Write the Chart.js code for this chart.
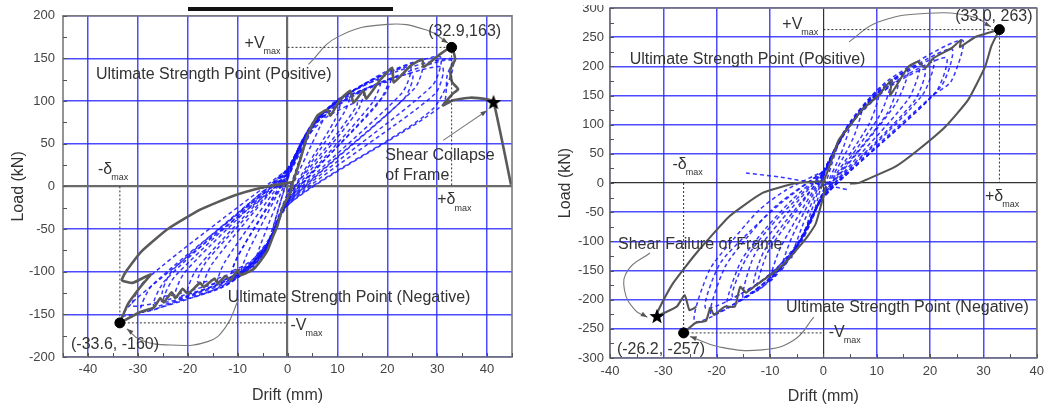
<!DOCTYPE html>
<html>
<head>
<meta charset="utf-8">
<script src="https://cdn.jsdelivr.net/npm/chart.js@4.4.0/dist/chart.umd.min.js"></script>
<style>
  body { margin: 0; background: #fff; width: 1050px; height: 408px; overflow: hidden; position: relative; }
  #left { position: absolute; left: 0; top: 0; }
  #right { position: absolute; left: 530px; top: -6px; }
  .bar { position: absolute; left: 188px; top: 7px; width: 205px; height: 4px; background: #111; }
  .cut { position: absolute; left: 560px; top: 0; width: 60px; height: 5px; background: #fff; }
</style>
</head>
<body>
<canvas id="left" width="530" height="408"></canvas>
<canvas id="right" width="520" height="414"></canvas>
<div class="bar"></div>
<div class="cut"></div>
<script>
// ---- axes ----
const leftXTicks = [-40, -30, -20, -10, 0, 10, 20, 30, 40];
const leftYTicks = [-200, -150, -100, -50, 0, 50, 100, 150, 200];
const leftXMinor = [-45, -35, -25, -15, -5, 5, 15, 25, 35, 45];
const leftYMinor = [-175, -125, -75, -25, 25, 75, 125, 175];
const rightXTicks = [-40, -30, -20, -10, 0, 10, 20, 30, 40];
const rightYTicks = [-300, -250, -200, -150, -100, -50, 0, 50, 100, 150, 200, 250, 300];
const rightXMinor = [-35, -25, -15, -5, 5, 15, 25, 35];
const rightYMinor = [-275, -225, -175, -125, -75, -25, 25, 75, 125, 175, 225, 275];

// ---- left specimen (drift mm, load kN) ----
const leftEnvelopePos = [[0.6, -3], [1.5, 12], [2.6, 32], [4, 60], [6, 83], [8, 90], [8.6, 83], [10.6, 102],
  [12.6, 112], [13.2, 98], [15.2, 112], [15.8, 103], [18.6, 125], [21, 139], [21.3, 122], [24.6, 141],
  [27, 149], [27.3, 140], [30.6, 155], [32.9, 163], [33.6, 149], [32.6, 137], [33, 122], [34.2, 114],
  [33, 108], [31.2, 95], [33.2, 101], [36.6, 104], [40, 102], [41.3, 99], [44.8, 2]];
const leftEnvelopeNeg = [[1, 2], [0.6, -7], [-1, -25], [-2, -46], [-3, -60], [-4, -75], [-5.5, -88], [-6.8, -97],
  [-9.4, -104], [-10, -98], [-11.4, -110], [-12.4, -105], [-14, -114], [-14.6, -108], [-16.8, -118],
  [-17.5, -113], [-20, -126], [-21, -120], [-22.5, -131], [-23.2, -124], [-24.8, -136], [-25.5, -131],
  [-26.8, -142], [-29.4, -147], [-33.6, -160]];
const leftOuterNeg = [[1, 5], [-4.8, -1], [-10.8, -11], [-17.4, -27], [-24, -50], [-29.4, -77], [-32.4, -100],
  [-33.2, -110], [-31, -113], [-27.4, -103], [-29.5, -118], [-32, -138], [-33.6, -160]];
const leftCycles = [
  [[0, 8], [1.5, 30], [3, 45], [1.5, 15], [0, -8], [-1.5, -30], [-3, -52], [-1.5, -20], [0, 8]],
  [[0, 10], [2, 38], [3.5, 58], [5, 72], [3, 40], [0, -10], [-2, -40], [-3.5, -65], [-4.5, -78], [-2.5, -40], [0, 10]],
  [[0, 12], [2, 40], [4, 65], [6, 82], [8, 90], [6.5, 70], [0, -12], [-2, -45], [-4, -72], [-5.5, -88], [-6.8, -95], [-5.5, -70], [0, 12]],
  [[0, 12], [2.5, 45], [5, 72], [8, 90], [10.6, 100], [9.5, 78], [0, -14], [-2.5, -50], [-5, -80], [-7.5, -95], [-9.4, -103], [-8, -78], [0, 14]],
  [[0, 14], [3, 50], [6, 78], [9, 97], [12.6, 110], [11.5, 88], [0, -15], [-3, -55], [-6, -85], [-9, -100], [-11.4, -108], [-10, -82], [0, 15]],
  [[0, 12], [4, 58], [8, 82], [14, 98], [11, 70], [0, -13], [-3, -58], [-7, -86], [-11, -98], [-9, -72], [0, 12]],
  [[0, 15], [3, 52], [6, 80], [10, 100], [15.2, 112], [14, 88], [0, -16], [-3, -57], [-7, -90], [-11, -105], [-14, -112], [-12.5, -88], [0, 16]],
  [[0, 16], [3.5, 58], [7, 85], [12, 108], [18.6, 125], [17, 98], [0, -17], [-3.5, -62], [-8, -95], [-12, -108], [-16.8, -117], [-15, -90], [0, 17]],
  [[0, 14], [3, 55], [7, 85], [13, 108], [20, 122], [18, 96], [0, -16], [-3.5, -60], [-8, -92], [-13, -106], [-18, -112], [-16, -86], [0, 15]],
  [[0, 17], [4, 62], [8, 90], [14, 115], [21, 137], [19.5, 108], [0, -18], [-4, -68], [-9, -100], [-14, -115], [-20, -125], [-18, -95], [0, 18]],
  [[0, 18], [4, 64], [9, 95], [16, 122], [24.6, 140], [23, 110], [0, -18], [-4, -70], [-10, -105], [-16, -120], [-22.5, -130], [-20.5, -100], [0, 18]],
  [[0, 18], [4, 62], [9, 92], [17, 118], [25, 132], [23.5, 104], [0, -20], [-4, -70], [-10, -102], [-17, -118], [-25, -128], [-23, -98], [0, 18]],
  [[0, 19], [4.5, 68], [10, 100], [18, 128], [27, 147], [25.5, 115], [0, -19], [-4.5, -75], [-11, -110], [-18, -125], [-24.8, -135], [-22.5, -105], [0, 19]],
  [[0, 20], [5, 72], [11, 105], [20, 133], [30.6, 152], [29, 118], [0, -20], [-5, -80], [-12, -115], [-20, -130], [-26.8, -140], [-24.5, -110], [0, 20]],
  [[0, 20], [5, 70], [12, 102], [21, 126], [31, 140], [29.5, 108], [0, -21], [-5, -78], [-12, -110], [-21, -128], [-31, -140], [-28.5, -110], [0, 20]],
  [[0, 15], [5, 74], [12, 108], [22, 135], [33, 150], [32, 130], [31, 95], [0, -22], [-5, -82], [-13, -118], [-22, -135], [-29.4, -147], [-27, -115], [0, 14]],
  [[0, 10], [6, 75], [14, 110], [33, 148], [29, 90], [0.6, -19], [-6, -88], [-15, -122], [-33, -152], [-30, -130], [0, 10]]
];
const leftPeaks = [[32.9, 163], [-33.6, -160]];
const leftCollapse = [[41.3, 99]];
const leftGuides = [
  [[0, 163], [32.9, 163]], [[32.9, 163], [32.9, 0]],
  [[-33.6, 0], [-33.6, -160]], [[-33.6, -160], [0, -160]]
];
const leftCallouts = [
  [[4.2, 143], [10, 175], [20, 190], [28, 183], [32.2, 168]],
  [[-9.8, -132], [-12.4, -165], [-16, -182], [-23.4, -186], [-29.4, -180], [-32.2, -167]],
  [[31.2, 54], [40, 89]]
];

// ---- right specimen ----
const rightEnvelopePos = [[-0.5, -10], [1, 25], [2.9, 74], [4.8, 96], [7.2, 125], [10.3, 150], [12.8, 177],
  [12.5, 150], [15.9, 199], [17.8, 208], [19.1, 197], [20.6, 214], [24, 231], [25.8, 245], [25.6, 233],
  [28.4, 250], [33, 263]];
const rightUnloadPos = [[33, 263], [31.5, 235], [30.3, 199], [27.1, 142], [22.8, 96], [17.8, 57], [13.5, 28],
  [7.9, 5], [6.6, 0], [5, -1]];
const rightEnvelopeNeg = [[0.5, -5], [-1.4, -69], [-3, -92], [-4.6, -110], [-7, -135], [-9.5, -155],
  [-12.6, -175], [-14.5, -188], [-15.6, -178], [-16.6, -212], [-18.5, -212], [-20.5, -226], [-21.2, -214],
  [-22, -236], [-24, -240], [-26.2, -257]];
const rightOuterNeg = [[0.5, 3], [-5, 0], [-11.4, -17], [-17.6, -57], [-23.8, -120], [-28.2, -172],
  [-31.1, -221], [-31.2, -228], [-27.5, -212], [-26, -192], [-25.1, -218], [-23.8, -212]];
const rightCycles = [
  [[0, 10], [1.5, 45], [2.9, 74], [1.5, 30], [0, -12], [-1, -35], [-2, -60], [-1, -25], [0, 10]],
  [[0, 12], [2, 50], [3.5, 80], [5, 100], [3.5, 55], [0, -15], [-1.5, -45], [-3, -80], [-4, -100], [-2.5, -55], [0, 12]],
  [[0, 14], [2.5, 60], [5, 100], [7.2, 125], [5.5, 75], [0, -17], [-2, -55], [-4, -95], [-6, -128], [-4, -75], [0, 14]],
  [[0, 15], [3, 70], [6, 112], [10.3, 150], [8.5, 100], [0, -18], [-2.5, -65], [-5, -110], [-8, -150], [-6, -95], [0, 15]],
  [[0, 16], [3, 72], [7, 125], [12.5, 170], [10.5, 115], [0, -20], [-3, -75], [-6, -125], [-10, -168], [-8, -110], [0, 16]],
  [[0, 15], [3, 72], [7, 120], [14, 175], [12, 120], [0, -20], [-3, -80], [-7, -130], [-13, -175], [-11, -115], [0, 15]],
  [[0, 17], [3.5, 80], [8, 135], [15.9, 195], [13.5, 135], [0, -22], [-3.5, -85], [-7, -135], [-12.5, -185], [-10.5, -120], [-6, -60], [0, 17]],
  [[0, 18], [4, 88], [9, 145], [18, 205], [16, 145], [0, -23], [-4, -95], [-8, -145], [-15, -197], [-13, -125], [-8, -65], [0, 18]],
  [[0, 18], [4, 90], [10, 150], [19, 195], [17, 140], [0, -23], [-4, -95], [-9, -150], [-17, -195], [-14.5, -130], [-9, -65], [0, 18]],
  [[0, 19], [4.5, 95], [10, 155], [20.6, 212], [18.5, 150], [0, -24], [-4.5, -100], [-9, -155], [-18, -212], [-15.5, -135], [-11, -80], [-6, -30], [0, 19]],
  [[0, 20], [5, 100], [12, 165], [23, 215], [21, 155], [0, -24], [-5, -105], [-11, -165], [-22, -215], [-19.5, -140], [-14, -85], [-8, -35], [0, 20]],
  [[0, 20], [5, 102], [11, 165], [24, 230], [22, 165], [0, -25], [-5, -108], [-10, -165], [-21, -225], [-18.5, -145], [-14, -90], [-9, -40], [0, 20]],
  [[0, 20], [5, 105], [12, 175], [26, 245], [24, 175], [20.2, 148], [0, -25], [-5, -110], [-11, -175], [-24, -238], [-21.4, -150], [-17, -98], [-12, -46], [-7, -12], [0, 20]],
  [[-14.5, 17], [-8, 10], [0, -3], [4.8, -12]]
];
const rightPeaks = [[33, 263], [-26.2, -257]];
const rightFailure = [[-31.2, -228]];
const rightGuides = [
  [[0, 263], [33, 263]], [[33, 263], [33, 0]],
  [[-26.2, 0], [-26.2, -257]], [[-26.2, -257], [0, -257]]
];
const rightCallouts = [
  [[4.8, 242], [10.3, 276], [19.7, 291], [28, 285], [31.4, 268]],
  [[-32.5, -120], [-36.6, -149], [-37.3, -183], [-35.3, -218], [-33, -230]],
  [[-1.8, -230], [-5.5, -269], [-11.5, -286], [-19.5, -281], [-25, -263]]
];

const leftNotes = [
  { text: '(32.9,163)', x: 28.2, y: 182 },
  { text: '+V', sub: 'max', x: -8.6, y: 168 },
  { text: 'Ultimate Strength Point (Positive)', x: -38.4, y: 131 },
  { text: 'Shear Collapse', x: 19.6, y: 36 },
  { text: 'of Frame', x: 19.6, y: 13 },
  { text: '-\u03b4', sub: 'max', x: -38, y: 20 },
  { text: '+\u03b4', sub: 'max', x: 30, y: -16 },
  { text: 'Ultimate Strength Point (Negative)', x: -12, y: -130 },
  { text: '(-33.6, -160)', x: -43.4, y: -185 },
  { text: '-V', sub: 'max', x: 0.6, y: -163 }
];
const rightNotes = [
  { text: '(33.0, 263)', x: 24.7, y: 285 },
  { text: '+V', sub: 'max', x: -7.7, y: 271 },
  { text: 'Ultimate Strength Point (Positive)', x: -36.3, y: 211 },
  { text: '-\u03b4', sub: 'max', x: -28.3, y: 31 },
  { text: '+\u03b4', sub: 'max', x: 30.3, y: -24 },
  { text: 'Shear Failure of Frame', x: -38.5, y: -106 },
  { text: 'Ultimate Strength Point (Negative)', x: -7, y: -213 },
  { text: '(-26.2, -257)', x: -38.7, y: -286 },
  { text: '-V', sub: 'max', x: 1, y: -257 }
];

const FONT = '"Liberation Sans", Arial, sans-serif';
const toXY = (arr) => arr.map(([x, y]) => ({ x, y }));

function starImage(size) {
  const c = document.createElement('canvas');
  c.width = c.height = size;
  const g = c.getContext('2d');
  g.fillStyle = '#000';
  g.beginPath();
  for (let i = 0; i < 10; i++) {
    const r = i % 2 ? size * 0.21 : size * 0.5;
    const a = -Math.PI / 2 + i * Math.PI / 5;
    g.lineTo(size / 2 + r * Math.cos(a), size / 2 + r * Math.sin(a) + size * 0.05);
  }
  g.closePath();
  g.fill();
  return c;
}

function line(data, color, width, dash, order, tension, extra) {
  return Object.assign({
    data: toXY(data), showLine: true, borderColor: color, borderWidth: width,
    borderDash: dash, pointRadius: 0, tension: tension, order: order, fill: false
  }, extra || {});
}

function decor(conf) {
  return {
    id: 'decor',
    afterDatasetsDraw(chart) {
      const { ctx, chartArea: a, scales: { x, y } } = chart;
      ctx.save();
      ctx.strokeStyle = conf.frame;
      ctx.lineWidth = 1.6;
      ctx.strokeRect(a.left, a.top, a.right - a.left, a.bottom - a.top);
      ctx.strokeStyle = '#555';
      ctx.lineWidth = 1;
      conf.xMarks.forEach((v) => {
        const px = Math.round(x.getPixelForValue(v)) + 0.5;
        ctx.beginPath(); ctx.moveTo(px, a.bottom); ctx.lineTo(px, a.bottom - 4); ctx.stroke();
      });
      conf.yMarks.forEach((v) => {
        const py = Math.round(y.getPixelForValue(v)) + 0.5;
        ctx.beginPath(); ctx.moveTo(a.left, py); ctx.lineTo(a.left + 4, py); ctx.stroke();
      });
      // arrow heads on callouts
      ctx.fillStyle = '#555';
      chart.data.datasets.forEach((ds, i) => {
        if (!ds.arrow) return;
        const pts = chart.getDatasetMeta(i).data;
        const p = pts[pts.length - 1], q = pts[pts.length - 2];
        const ang = Math.atan2(p.y - q.y, p.x - q.x);
        ctx.beginPath();
        ctx.moveTo(p.x, p.y);
        ctx.lineTo(p.x - 7 * Math.cos(ang - 0.35), p.y - 7 * Math.sin(ang - 0.35));
        ctx.lineTo(p.x - 7 * Math.cos(ang + 0.35), p.y - 7 * Math.sin(ang + 0.35));
        ctx.closePath();
        ctx.fill();
      });
      ctx.fillStyle = '#333';
      ctx.textBaseline = 'middle';
      ctx.textAlign = 'left';
      conf.notes.forEach((n) => {
        const px = x.getPixelForValue(n.x), py = y.getPixelForValue(n.y);
        ctx.font = '16px ' + FONT;
        ctx.fillText(n.text, px, py);
        if (n.sub) {
          const w = ctx.measureText(n.text).width;
          ctx.font = '9px ' + FONT;
          ctx.fillText(n.sub, px + w - 1, py + 8);
        }
      });
      ctx.restore();
    }
  };
}

function makeChart(id, c) {
  const datasets = [];
  c.cycles.forEach((cy) => datasets.push(line(cy, 'rgba(20,20,255,0.85)', 1.5, [4, 3], 3, 0.25)));
  c.gray.forEach((g) => datasets.push(line(g, c.grayColor, c.grayWidth, [], 2, 0.15)));
  c.guides.forEach((g) => datasets.push(line(g, '#333', 1, [2, 2], 1, 0)));
  c.callouts.forEach((g) => datasets.push(line(g, '#777', 1.1, [], 1, 0.45, { arrow: true })));
  datasets.push({ data: toXY(c.peaks), showLine: false, pointRadius: 5, pointBackgroundColor: '#000',
    pointBorderColor: '#000', order: 0 });
  datasets.push({ data: toXY(c.star), showLine: false, pointStyle: starImage(16), order: 0 });

  const tickFont = { family: FONT, size: 13 };
  const titleFont = { family: FONT, size: 16 };
  new Chart(document.getElementById(id), {
    type: 'scatter',
    data: { datasets },
    options: {
      responsive: false,
      animation: false,
      events: [],
      layout: { padding: c.padding },
      plugins: { legend: { display: false }, tooltip: { enabled: false } },
      scales: {
        x: {
          type: 'linear', min: c.xMin, max: c.xMax,
          afterBuildTicks: (s) => { s.ticks = c.xTicks.map((v) => ({ value: v })); },
          afterFit: (s) => { s.height = c.xAxisH; },
          border: { display: false },
          grid: {
            drawTicks: false,
            color: (ctx) => (ctx.tick && ctx.tick.value === 0 ? c.zeroColor : 'rgba(45,45,255,0.85)'),
            lineWidth: (ctx) => (ctx.tick && ctx.tick.value === 0 ? c.zeroWidth : 1.5)
          },
          ticks: { font: tickFont, color: '#444', padding: c.xPad, autoSkip: false, maxRotation: 0 },
          title: { display: true, text: 'Drift (mm)', font: titleFont, color: '#333',
            padding: { top: 0, bottom: c.xTitlePad } }
        },
        y: {
          type: 'linear', min: c.yMin, max: c.yMax,
          afterBuildTicks: (s) => { s.ticks = c.yTicks.map((v) => ({ value: v })); },
          afterFit: (s) => { s.width = c.yAxisW; },
          border: { display: false },
          grid: {
            drawTicks: false,
            color: (ctx) => (ctx.tick && ctx.tick.value === 0 ? c.zeroColor : 'rgba(45,45,255,0.85)'),
            lineWidth: (ctx) => (ctx.tick && ctx.tick.value === 0 ? c.zeroWidth : 1.5)
          },
          ticks: { font: tickFont, color: '#444', padding: c.yPad, autoSkip: false },
          title: { display: true, text: 'Load (kN)', font: titleFont, color: '#333',
            padding: { top: c.yTitlePad, bottom: 0 } }
        }
      }
    },
    plugins: [decor({ frame: '#7a7a7a', xMarks: c.xTicks.concat(c.xMinor), yMarks: c.yTicks.concat(c.yMinor), notes: c.notes })]
  });
}

makeChart('left', {
  cycles: leftCycles, gray: [leftOuterNeg, leftEnvelopeNeg, leftEnvelopePos], grayColor: '#5a5a5a', grayWidth: 2.6,
  guides: leftGuides, callouts: leftCallouts, peaks: leftPeaks, star: leftCollapse, notes: leftNotes,
  xMin: -45, xMax: 45, yMin: -200, yMax: 200,
  xTicks: leftXTicks, yTicks: leftYTicks, xMinor: leftXMinor, yMinor: leftYMinor,
  padding: { left: 0, right: 18, top: 13, bottom: 0 }, xAxisH: 51, yAxisW: 63,
  xPad: 5, yPad: 8, xTitlePad: 2.4, yTitlePad: 9, zeroColor: '#6a6a6a', zeroWidth: 2.2
});

makeChart('right', {
  cycles: rightCycles, gray: [rightOuterNeg, rightEnvelopeNeg, rightEnvelopePos, rightUnloadPos], grayColor: '#555', grayWidth: 2.1,
  guides: rightGuides, callouts: rightCallouts, peaks: rightPeaks, star: rightFailure, notes: rightNotes,
  xMin: -40, xMax: 40, yMin: -300, yMax: 300,
  xTicks: rightXTicks, yTicks: rightYTicks, xMinor: rightXMinor, yMinor: rightYMinor,
  padding: { left: 0, right: 11, top: 14, bottom: 0 }, xAxisH: 50, yAxisW: 80,
  xPad: 6, yPad: 6, xTitlePad: 1.4, yTitlePad: 26, zeroColor: '#333', zeroWidth: 1.2
});
</script>
</body>
</html>
